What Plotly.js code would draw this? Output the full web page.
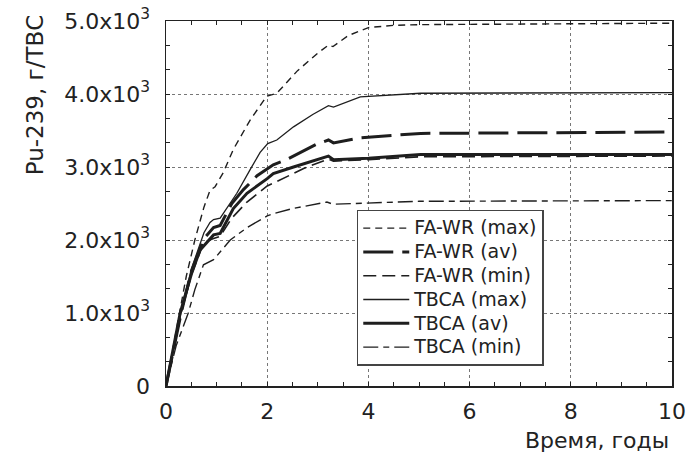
<!DOCTYPE html>
<html>
<head>
<meta charset="utf-8">
<script src="https://cdn.plot.ly/plotly-3.0.1.min.js"></script>
<style>html,body{margin:0;padding:0;background:#fff;}#chart{width:693px;height:460px;}</style>
</head>
<body>
<div id="chart"></div>
<script>
// Time, years / Pu-239 mass in thousands of g per fuel assembly
const fawrMaxX = [0, 0.15, 0.27, 0.4, 0.57, 0.75, 0.87, 0.97, 1.13, 1.33, 1.66, 1.99, 2.19, 2.6, 3.0, 3.21, 3.3, 3.6, 4.0, 4.5, 5.0, 10];
const fawrMaxY = [0, 0.55, 1.0, 1.5, 2.0, 2.45, 2.68, 2.73, 2.92, 3.24, 3.64, 3.97, 4.01, 4.32, 4.56, 4.67, 4.65, 4.8, 4.91, 4.94, 4.95, 4.97];

const fawrAvX = [0, 0.3, 0.5, 0.75, 0.94, 1.07, 1.3, 1.53, 1.8, 2.12, 2.38, 2.97, 3.21, 3.31, 3.83, 5.03, 10];
const fawrAvY = [0, 1.0, 1.57, 2.02, 2.17, 2.2, 2.5, 2.69, 2.88, 3.03, 3.1, 3.31, 3.37, 3.33, 3.40, 3.46, 3.48];

const fawrMinX = [0, 0.3, 0.5, 0.75, 0.94, 1.07, 1.3, 1.6, 2.0, 2.19, 2.72, 3.0, 3.21, 3.31, 4.0, 5.0, 10];
const fawrMinY = [0, 1.0, 1.52, 1.97, 2.02, 2.05, 2.3, 2.52, 2.74, 2.8, 2.98, 3.06, 3.11, 3.08, 3.1, 3.14, 3.15];

const tbcaMaxX = [0, 0.3, 0.5, 0.75, 0.87, 0.94, 1.07, 1.4, 1.66, 1.86, 2.01, 2.19, 2.52, 2.9, 3.21, 3.31, 3.84, 5.03, 10];
const tbcaMaxY = [0, 1.02, 1.6, 2.1, 2.24, 2.28, 2.3, 2.64, 2.96, 3.2, 3.32, 3.37, 3.55, 3.72, 3.84, 3.82, 3.96, 4.01, 4.02];

const tbcaAvX = [0, 0.28, 0.5, 0.67, 0.94, 1.07, 1.33, 1.6, 2.0, 2.12, 2.52, 3.0, 3.21, 3.31, 4.0, 5.03, 10];
const tbcaAvY = [0, 1.0, 1.53, 1.86, 2.07, 2.09, 2.43, 2.64, 2.84, 2.91, 3.0, 3.1, 3.15, 3.1, 3.12, 3.17, 3.17];

const tbcaMinX = [0, 0.2, 0.44, 0.57, 0.74, 0.94, 1.27, 1.6, 2.0, 2.12, 2.5, 3.0, 3.18, 3.3, 3.83, 5.0, 10];
const tbcaMinY = [0, 0.55, 1.0, 1.32, 1.66, 1.73, 2.0, 2.17, 2.33, 2.36, 2.43, 2.49, 2.52, 2.49, 2.5, 2.53, 2.54];

const seriesNames = ['FA-WR (max)', 'FA-WR (av)', 'FA-WR (min)', 'TBCA (max)', 'TBCA (av)', 'TBCA (min)'];
const yTickVals = [0, 1000, 2000, 3000, 4000, 5000];
const yTickText = ['0', '1.0x10<sup>3</sup>', '2.0x10<sup>3</sup>', '3.0x10<sup>3</sup>', '4.0x10<sup>3</sup>', '5.0x10<sup>3</sup>'];
const xTickVals = [0, 2, 4, 6, 8, 10];

const k = v => v.map(a => a * 1000);
const ink = '#1e1e1e';
const styles = [
  {width: 1.4, dash: '7px,5px'},
  {width: 3, dash: '30px,9px'},
  {width: 1.6, dash: '13px,6px'},
  {width: 1.3, dash: 'solid'},
  {width: 3, dash: 'solid'},
  {width: 1.4, dash: '15px,5px,6px,5px'}
];
const xs = [fawrMaxX, fawrAvX, fawrMinX, tbcaMaxX, tbcaAvX, tbcaMinX];
const ys = [fawrMaxY, fawrAvY, fawrMinY, tbcaMaxY, tbcaAvY, tbcaMinY];
const traces = seriesNames.map((n, i) => ({
  x: xs[i], y: k(ys[i]), name: '<span style="font-size:19px">' + n + '</span>',
  type: 'scatter', mode: 'lines',
  line: {color: ink, width: styles[i].width, dash: styles[i].dash, shape: 'linear'}
}));

const fam = 'DejaVu Sans, sans-serif';
const tickFont = {family: fam, size: 22, color: '#222'};
const layout = {
  width: 693, height: 460,
  margin: {l: 166, r: 21, t: 21, b: 74},
  paper_bgcolor: '#fff', plot_bgcolor: '#fff',
  showlegend: true,
  legend: {
    x: 0.377, xanchor: 'left', y: 0.483, yanchor: 'top',
    bgcolor: '#fff', bordercolor: '#444', borderwidth: 1.5,
    font: {family: fam, size: 16, color: '#222'},
    itemwidth: 46, tracegroupgap: 0
  },
  xaxis: {
    range: [0, 10], tickvals: xTickVals, ticktext: xTickVals.map(String),
    ticks: 'inside', ticklen: 4, tickcolor: '#222', tickwidth: 1,
    minor: {dtick: 0.5, ticks: 'inside', ticklen: 4, tickcolor: '#222', showgrid: false},
    showline: true, linecolor: '#222', linewidth: 1.5, mirror: 'ticks',
    showgrid: true, gridcolor: '#777', griddash: 'dot', gridwidth: 1,
    zeroline: false, tickfont: tickFont, ticklabelstandoff: 5
  },
  yaxis: {
    range: [0, 5000], tickvals: yTickVals, ticktext: yTickText,
    ticks: 'inside', ticklen: 4, tickcolor: '#222', tickwidth: 1,
    minor: {dtick: 1000 / 3, tick0: 0, ticks: 'inside', ticklen: 4, tickcolor: '#222', showgrid: false},
    showline: true, linecolor: '#222', linewidth: 1.5, mirror: 'ticks',
    showgrid: true, gridcolor: '#777', griddash: 'dot', gridwidth: 1,
    zeroline: false, tickfont: tickFont, ticklabelstandoff: 10
  },
  annotations: [
    {text: 'Pu-239, г/ТВС', xref: 'paper', yref: 'paper', x: -0.259, y: 1.025, xanchor: 'center', yanchor: 'top',
     textangle: -90, showarrow: false, font: {family: fam, size: 23, color: '#222'}},
    {text: 'Время, годы', xref: 'paper', yref: 'paper', x: 0.998, y: -0.11, xanchor: 'right', yanchor: 'top',
     showarrow: false, font: {family: fam, size: 22, color: '#222'}}
  ]
};
Plotly.newPlot('chart', traces, layout, {staticPlot: true, displayModeBar: false});
</script>
</body>
</html>
